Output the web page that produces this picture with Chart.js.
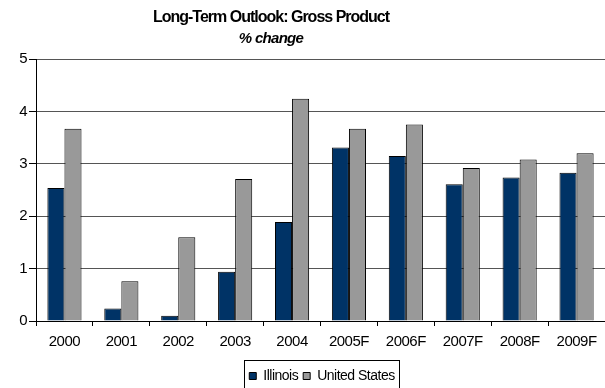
<!DOCTYPE html>
<html>
<head>
<meta charset="utf-8">
<script src="https://cdn.jsdelivr.net/npm/chart.js@4"></script>
<style>
  html, body { margin: 0; padding: 0; background: #fff; }
</style>
</head>
<body>
<canvas id="chart" width="605" height="388"></canvas>
<script>
// Data
const years = ['2000', '2001', '2002', '2003', '2004', '2005F', '2006F', '2007F', '2008F', '2009F'];
const illinois = [2.54, 0.24, 0.10, 0.94, 1.89, 3.31, 3.15, 2.61, 2.74, 2.83];
const unitedStates = [3.67, 0.76, 1.60, 2.71, 4.24, 3.67, 3.75, 2.92, 3.08, 3.20];
const yTicks = [0, 1, 2, 3, 4, 5];
const titleLines = ['Long-Term Outlook: Gross Product', '% change'];

const FONT = '"Liberation Sans", Arial, sans-serif';

// Excel-ish tight text everywhere
const tightText = {
  id: 'tightText',
  beforeLayout(chart) { chart.ctx.letterSpacing = '-0.5px'; },
  beforeDraw(chart) { chart.ctx.letterSpacing = '-0.5px'; }
};

// legend sits a bit right of centre in the original
const legendShift = {
  id: 'legendShift',
  afterLayout(chart) {
    chart.legend.left += 18;
    chart.legend.right += 18;
  }
};

// Title is off-centre in the original, so draw it by hand
const headerText = {
  id: 'headerText',
  afterDraw(chart) {
    const ctx = chart.ctx;
    ctx.save();
    ctx.fillStyle = '#000';
    ctx.textAlign = 'center';
    ctx.textBaseline = 'alphabetic';
    ctx.letterSpacing = '-1px';
    ctx.font = 'bold 16px ' + FONT;
    ctx.fillText(titleLines[0], 271, 22);
    ctx.letterSpacing = '-0.7px';
    ctx.font = 'italic bold 15px ' + FONT;
    ctx.fillText(titleLines[1], 271, 43);
    ctx.restore();
  }
};

// Frame round the legend
const legendFrame = {
  id: 'legendFrame',
  afterDraw(chart) {
    const boxes = chart.legend.legendHitBoxes;
    if (!boxes || !boxes.length) return;
    const first = boxes[0], last = boxes[boxes.length - 1];
    const left = Math.round(first.left - 5);
    const right = Math.round(last.left + last.width + 4);
    const top = Math.round(first.top - 9);
    const ctx = chart.ctx;
    ctx.save();
    ctx.strokeStyle = '#000';
    ctx.lineWidth = 1;
    ctx.strokeRect(left + 0.5, top + 0.5, right - left, 40);
    ctx.restore();
  }
};

new Chart(document.getElementById('chart'), {
  type: 'bar',
  data: {
    labels: years,
    datasets: [
      {
        label: 'Illinois',
        data: illinois,
        backgroundColor: '#003366',
        borderColor: '#000',
        borderWidth: 1,
        categoryPercentage: 0.6,
        barPercentage: 1.0
      },
      {
        label: 'United States',
        data: unitedStates,
        backgroundColor: '#999999',
        borderColor: '#000',
        borderWidth: 1,
        categoryPercentage: 0.6,
        barPercentage: 1.0
      }
    ]
  },
  options: {
    responsive: false,
    animation: false,
    layout: { padding: { top: 59, right: -3, left: 0, bottom: -5 } },
    plugins: {
      title: { display: false },
      tooltip: { enabled: false },
      legend: {
        position: 'bottom',
        labels: {
          color: '#000',
          font: { family: FONT, size: 14 },
          boxWidth: 7,
          boxHeight: 7,
          padding: 5
        }
      }
    },
    scales: {
      x: {
        grid: { display: true, drawOnChartArea: false, offset: true, tickLength: 5, color: '#000' },
        border: { color: '#000', width: 1 },
        ticks: { color: '#000', font: { family: FONT, size: 15 }, padding: 7, maxRotation: 0, autoSkip: false },
        afterFit(scale) { scale.height = 43; }
      },
      y: {
        min: 0,
        max: 5,
        afterBuildTicks(scale) { scale.ticks = yTicks.map(v => ({ value: v })); },
        grid: { color: '#555', tickColor: '#000', tickLength: 7 },
        border: { color: '#000', width: 1 },
        ticks: { color: '#000', font: { family: FONT, size: 15 }, padding: 2 },
        afterFit(scale) { scale.width = 36; }
      }
    }
  },
  plugins: [tightText, legendShift, headerText, legendFrame]
});
</script>
</body>
</html>
